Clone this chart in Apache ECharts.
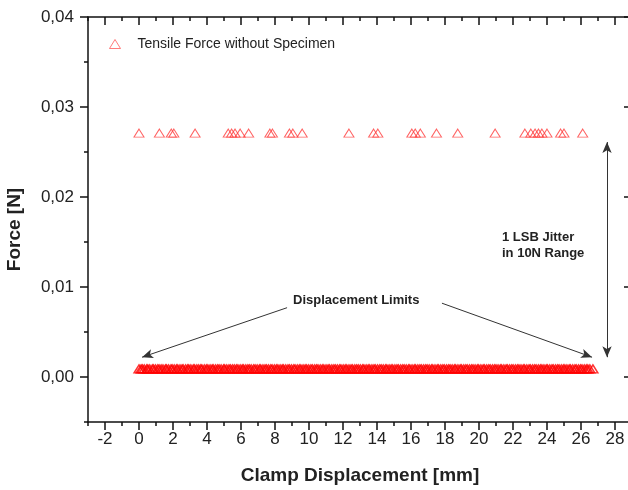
<!DOCTYPE html>
<html>
<head>
<meta charset="utf-8">
<script src="https://cdn.jsdelivr.net/npm/echarts@6/dist/echarts.min.js"></script>
<style>
html, body { margin: 0; padding: 0; background: #fff; }
#chart { width: 628px; height: 490px; }
</style>
</head>
<body>
<div id="chart"></div>
<script>
// upper row of points (1 LSB higher)
let upperX = [0.0, 1.2, 1.9, 2.05, 3.3, 5.25, 5.45, 5.65, 5.95, 6.45, 7.7, 7.85, 8.85, 9.05, 9.6,
    12.35, 13.8, 14.05, 16.05, 16.25, 16.55, 17.5, 18.75, 20.95, 22.7, 23.05, 23.3, 23.5, 23.7, 24.0,
    24.8, 25.0, 26.1];
let upperY = 0.0271;

// lower row, dense band
let lowerX = [0.0, 0.12, 0.2, 0.31, 0.45, 0.52, 0.63, 0.78, 0.85, 0.97, 1.1, 1.18, 1.3, 1.41, 1.55, 1.62,
    1.74, 1.88, 1.95, 2.07, 2.2, 2.28, 2.41, 2.53, 2.6, 2.74, 2.86, 2.93, 3.05, 3.19, 3.27, 3.4, 3.51,
    3.63, 3.7, 3.84, 3.96, 4.05, 4.18, 4.3, 4.37, 4.5, 4.62, 4.71, 4.83, 4.97, 5.04, 5.16, 5.29, 5.38,
    5.5, 5.61, 5.73, 5.82, 5.95, 6.07, 6.15, 6.28, 6.4, 6.49, 6.6, 6.74, 6.83, 6.95, 7.08, 7.16, 7.29,
    7.41, 7.5, 7.62, 7.75, 7.83, 7.96, 8.08, 8.17, 8.3, 8.42, 8.5, 8.63, 8.76, 8.85, 8.97, 9.1, 9.18,
    9.31, 9.43, 9.52, 9.65, 9.77, 9.86, 9.98, 10.11, 10.2, 10.33, 10.44, 10.53, 10.66, 10.78, 10.87,
    11.0, 11.12, 11.21, 11.34, 11.46, 11.55, 11.67, 11.8, 11.88, 12.01, 12.13, 12.22, 12.35, 12.47,
    12.56, 12.69, 12.8, 12.9, 13.02, 13.15, 13.23, 13.36, 13.48, 13.57, 13.7, 13.82, 13.9, 14.03,
    14.16, 14.25, 14.37, 14.5, 14.58, 14.71, 14.83, 14.92, 15.05, 15.17, 15.26, 15.39, 15.51, 15.6,
    15.72, 15.85, 15.93, 16.06, 16.19, 16.27, 16.4, 16.52, 16.61, 16.74, 16.86, 16.95, 17.07, 17.2,
    17.28, 17.41, 17.54, 17.62, 17.75, 17.87, 17.96, 18.09, 18.21, 18.3, 18.42, 18.55, 18.63, 18.76,
    18.89, 18.97, 19.1, 19.22, 19.31, 19.44, 19.56, 19.65, 19.77, 19.9, 19.98, 20.11, 20.24, 20.32,
    20.45, 20.57, 20.66, 20.79, 20.91, 21.0, 21.12, 21.25, 21.33, 21.46, 21.59, 21.67, 21.8, 21.92,
    22.01, 22.14, 22.26, 22.35, 22.47, 22.6, 22.68, 22.81, 22.94, 23.02, 23.15, 23.27, 23.36, 23.49,
    23.61, 23.7, 23.82, 23.95, 24.03, 24.16, 24.29, 24.37, 24.5, 24.62, 24.71, 24.84, 24.96, 25.05,
    25.17, 25.3, 25.38, 25.51, 25.64, 25.72, 25.85, 25.97, 26.06, 26.19, 26.31, 26.4, 26.52, 26.7];
let lowerY = 0.0009;

let xMajor = [-2, 0, 2, 4, 6, 8, 10, 12, 14, 16, 18, 20, 22, 24, 26, 28];
let yMajor = [0, 0.01, 0.02, 0.03, 0.04];

let myChart = echarts.init(document.getElementById('chart'));

let font = 'Liberation Sans, Arial, sans-serif';
let dark = '#222';
let tickStyle = {color: '#111', width: 1.5};

let seriesName = 'Tensile Force without Specimen';

let upperPts = upperX.map(function (v) { return [v, upperY]; });
let lowerPts = lowerX.map(function (v) { return [v, lowerY]; });

let axisLine = {show: true, onZero: false, lineStyle: {color: '#111', width: 1.5}};
let noLine = {show: false, onZero: false};

option = {
    animation: false,
    backgroundColor: '#fff',
    grid: {left: 88, top: 17, right: -4, bottom: 68, containLabel: false, outerBoundsMode: 'none'},
    legend: {
        left: 109,
        top: 37,
        padding: 0,
        itemWidth: 11,
        itemHeight: 9,
        icon: 'triangle',
        itemStyle: {color: '#fff', borderColor: '#ff5a5a', borderWidth: 1},
        textStyle: {fontFamily: font, fontSize: 14, color: dark, padding: [0, 0, 0, 12]},
        data: [seriesName]
    },
    xAxis: [
        {
            // data axis, minor ticks + labels
            type: 'value', position: 'bottom', min: -3, max: 29, interval: 1,
            axisLine: axisLine,
            axisTick: {show: true, length: 4, lineStyle: tickStyle},
            splitLine: {show: false},
            axisLabel: {
                fontFamily: font, fontSize: 17, color: dark, margin: 9,
                formatter: function (v) { return (v % 2 === 0) ? String(v) : ''; }
            },
            name: 'Clamp Displacement [mm]',
            nameLocation: 'middle',
            nameGap: 44,
            nameTextStyle: {fontFamily: font, fontSize: 19, fontWeight: 'bold', color: dark}
        },
        {
            // major ticks bottom
            type: 'value', position: 'bottom', min: -3, max: 29,
            axisLine: noLine,
            axisTick: {show: true, length: 8, customValues: xMajor, lineStyle: tickStyle},
            axisLabel: {show: false},
            splitLine: {show: false}
        },
        {
            // top side of the box, minor
            type: 'value', position: 'top', min: -3, max: 29, interval: 1,
            axisLine: axisLine,
            axisTick: {show: true, inside: true, length: 4, lineStyle: tickStyle},
            axisLabel: {show: false},
            splitLine: {show: false}
        },
        {
            // top major
            type: 'value', position: 'top', min: -3, max: 29,
            axisLine: noLine,
            axisTick: {show: true, inside: true, length: 8, customValues: xMajor, lineStyle: tickStyle},
            axisLabel: {show: false},
            splitLine: {show: false}
        }
    ],
    yAxis: [
        {
            type: 'value', position: 'left', min: -0.005, max: 0.04, interval: 0.005,
            axisLine: axisLine,
            axisTick: {show: true, length: 4, lineStyle: tickStyle},
            splitLine: {show: false},
            axisLabel: {
                fontFamily: font, fontSize: 17, color: dark, margin: 14,
                formatter: function (v) {
                    let k = Math.round(v * 1000);
                    if (k % 10 !== 0) return '';
                    return v.toFixed(2).replace('.', ',');
                }
            },
            name: 'Force [N]',
            nameLocation: 'middle',
            nameGap: 64,
            nameTextStyle: {fontFamily: font, fontSize: 19, fontWeight: 'bold', color: dark, padding: [0, 20, 0, 0]}
        },
        {
            type: 'value', position: 'left', min: -0.005, max: 0.04,
            axisLine: noLine,
            axisTick: {show: true, length: 8, customValues: yMajor, lineStyle: tickStyle},
            axisLabel: {show: false},
            splitLine: {show: false}
        },
        {
            type: 'value', position: 'right', min: -0.005, max: 0.04,
            axisLine: axisLine,
            axisTick: {show: true, inside: true, length: 8, customValues: yMajor, lineStyle: tickStyle},
            axisLabel: {show: false},
            splitLine: {show: false}
        }
    ],
    graphic: [
        {
            type: 'text', left: 293, top: 294,
            style: {text: 'Displacement Limits', fontFamily: font, fontSize: 13, fontWeight: 'bold', fill: dark}
        },
        {
            type: 'text', left: 502, top: 229,
            style: {text: '1 LSB Jitter\nin 10N Range', fontFamily: font, fontSize: 13, fontWeight: 'bold', fill: dark, lineHeight: 16}
        }
    ],
    series: [
        {
            name: seriesName,
            type: 'scatter',
            symbol: 'triangle',
            symbolSize: [10, 8],
            itemStyle: {color: 'rgba(255,255,255,0)', borderColor: '#ff3a3a', borderWidth: 1},
            emphasis: {disabled: true},
            data: upperPts,
            markLine: {
                silent: true,
                symbol: ['none', 'arrow'],
                symbolSize: [7, 11],
                label: {show: false},
                lineStyle: {color: '#333', width: 1, type: 'solid'},
                data: [
                    [{coord: [8.71, 0.0077]}, {coord: [0.18, 0.0022]}],
                    [{coord: [17.82, 0.0082]}, {coord: [26.65, 0.0022]}],
                    [{coord: [27.53, 0.0261], symbol: 'arrow'}, {coord: [27.53, 0.0022]}]
                ]
            }
        },
        {
            name: seriesName,
            type: 'scatter',
            symbol: 'triangle',
            symbolSize: [10, 8],
            itemStyle: {color: 'rgba(255,255,255,0)', borderColor: '#ff0000', borderWidth: 1.4},
            emphasis: {disabled: true},
            data: lowerPts
        }
    ]
};
myChart.setOption(option);
</script>
</body>
</html>
